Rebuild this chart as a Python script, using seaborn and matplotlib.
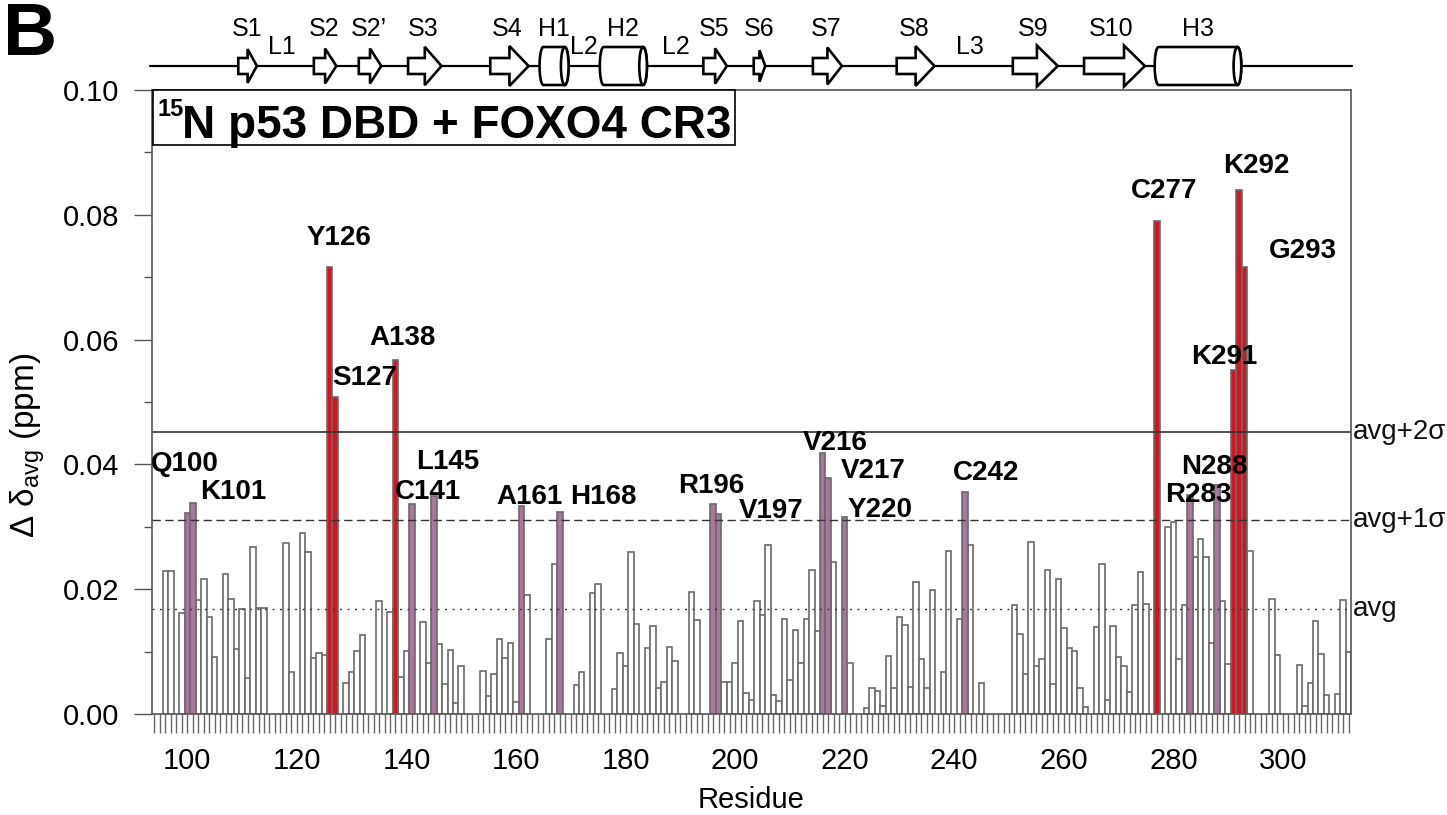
import numpy as np
import pandas as pd
import matplotlib
matplotlib.use("Agg")
import matplotlib.pyplot as plt
import seaborn as sns
from matplotlib.patches import Polygon, Ellipse, Rectangle
from matplotlib.ticker import FixedLocator, MultipleLocator, FormatStrFormatter
import matplotlib.transforms as mtransforms

# ---------------- data ----------------
residues = list(range(94, 313))
shifts = [
    None, None, 0.0229, 0.0229, None, 0.0162,                                          # 94-99
    0.0322, 0.0338, 0.0183, 0.0217, 0.0155, 0.0092, None, 0.0224, 0.0184, 0.0104,      # 100-109
    0.0169, 0.0058, 0.0268, 0.0170, 0.0170, None, None, None, 0.0274, 0.0067,          # 110-119
    None, 0.0290, 0.0259, 0.0089, 0.0097, 0.0094, 0.0716, 0.0508, None, 0.0050,        # 120-129
    0.0067, 0.0101, 0.0127, None, None, 0.0181, None, 0.0163, 0.0567, 0.0060,          # 130-139
    0.0101, 0.0336, None, 0.0147, 0.0081, 0.0349, 0.0112, 0.0048, 0.0103, 0.0018,      # 140-149
    0.0077, None, None, None, 0.0069, 0.0029, 0.0064, 0.0120, 0.0090, 0.0113,          # 150-159
    0.0020, 0.0334, 0.0190, None, None, None, 0.0120, 0.0240, 0.0323, None,            # 160-169
    None, 0.0046, 0.0067, None, 0.0194, 0.0208, None, None, 0.0040, 0.0097,            # 170-179
    0.0077, 0.0259, 0.0144, None, 0.0105, 0.0141, 0.0041, 0.0051, 0.0108, 0.0085,      # 180-189
    None, None, 0.0195, 0.0151, None, None, 0.0336, 0.0321, 0.0051, 0.0051,            # 190-199
    0.0081, 0.0149, 0.0034, 0.0022, 0.0181, 0.0159, 0.0271, 0.0030, 0.0021, 0.0153,    # 200-209
    0.0054, 0.0135, 0.0081, 0.0153, 0.0231, 0.0133, 0.0419, 0.0379, 0.0244, None,      # 210-219
    0.0315, 0.0081, None, None, 0.0009, 0.0041, 0.0037, 0.0013, 0.0093, 0.0041,        # 220-229
    0.0156, 0.0143, 0.0043, 0.0212, 0.0088, 0.0041, 0.0199, None, 0.0068, 0.0262,      # 230-239
    None, 0.0152, 0.0356, 0.0271, None, 0.0050, None, None, None, None,                # 240-249
    None, 0.0174, 0.0129, 0.0064, 0.0275, 0.0077, 0.0088, 0.0231, 0.0048, 0.0216,      # 250-259
    0.0138, 0.0105, 0.0101, 0.0041, 0.0011, None, 0.0140, 0.0240, 0.0022, 0.0141,      # 260-269
    0.0091, 0.0077, 0.0035, 0.0175, 0.0228, 0.0177, None, 0.0790, None, 0.0300,        # 270-279
    0.0308, 0.0088, 0.0175, 0.0351, 0.0252, 0.0281, 0.0251, 0.0114, 0.0367, 0.0181,    # 280-289
    0.0080, 0.0552, 0.0840, 0.0716, 0.0262, None, None, None, 0.0184, 0.0095,          # 290-299
    None, None, None, 0.0079, 0.0013, 0.0049, 0.0149, 0.0096, 0.0031, None,            # 300-309
    0.0032, 0.0182, 0.0099,                                                            # 310-312
]
strong_residues = [126, 127, 138, 277, 291, 292, 293]        # > avg + 2 sigma
medium_residues = [100, 101, 141, 145, 161, 168, 196, 197,
                   216, 217, 220, 242, 283, 288]             # > avg + 1 sigma

threshold_values = [0.0452, 0.0311, 0.0168]
threshold_labels = ["avg+2σ", "avg+1σ", "avg"]

peak_labels = ["Q100", "K101", "Y126", "S127", "A138", "C141", "L145", "A161",
               "H168", "R196", "V197", "V216", "V217", "Y220", "C242", "C277",
               "R283", "N288", "K291", "K292", "G293"]

# secondary structure of p53 DBD
ss_names = ["S1", "S2", "S2’", "S3", "S4", "H1", "H2", "S5", "S6", "S7",
            "S8", "S9", "S10", "H3"]
ss_start = [109.3, 123.1, 131.3, 140.3, 155.3, 164.3, 175.3, 194.2, 203.4,
            214.2, 229.5, 250.7, 263.7, 276.6]
ss_end = [112.7, 127.2, 135.4, 146.4, 162.3, 169.6, 183.9, 198.5, 205.5,
          219.5, 236.4, 258.9, 274.8, 292.4]
loop_names = ["L1", "L2", "L2", "L3"]
loop_pos = [117.3, 172.4, 189.2, 242.9]

# ---------------- layout / style ----------------
label_xy = {  # (residue-axis x, value-axis y) of text centres
    "Q100": (99.6, 0.0401), "K101": (108.4, 0.0356), "Y126": (127.7, 0.0763),
    "S127": (132.4, 0.0538), "A138": (139.2, 0.0603), "C141": (143.9, 0.0356),
    "L145": (147.5, 0.0404), "A161": (162.4, 0.0348), "H168": (175.9, 0.0348),
    "R196": (195.6, 0.0365), "V197": (206.6, 0.0326), "V216": (218.2, 0.0435),
    "V217": (225.3, 0.0390), "Y220": (226.4, 0.0327), "C242": (245.9, 0.0387),
    "C277": (278.3, 0.0838), "K292": (295.1, 0.0878), "G293": (303.7, 0.0742),
    "K291": (289.3, 0.0572), "N288": (287.5, 0.0396), "R283": (284.5, 0.0351),
}
RED = "#d4141f"
PURPLE = "#ab75a0"
EDGE = "#6a6a6a"
SPINE = "#555555"

sns.set_theme(style="ticks")
plt.rcParams["font.family"] = ["Liberation Sans", "DejaVu Sans"]
for k in ["text.color", "axes.labelcolor", "xtick.labelcolor", "ytick.labelcolor"]:
    plt.rcParams[k] = "black"
plt.rcParams["mathtext.fontset"] = "custom"
plt.rcParams["mathtext.rm"] = "Liberation Sans"
plt.rcParams["mathtext.it"] = "Liberation Sans:italic"
plt.rcParams["mathtext.bf"] = "Liberation Sans:bold"

W, H = 1447, 815
fig = plt.figure(figsize=(W / 100, H / 100), dpi=100)
ax_l, ax_r, ax_t, ax_b = 152, 1350.7, 90, 714
ax = fig.add_axes([ax_l / W, 1 - ax_b / H, (ax_r - ax_l) / W, (ax_b - ax_t) / H])

groups = []
for r in residues:
    if r in strong_residues:
        groups.append("strong")
    elif r in medium_residues:
        groups.append("medium")
    else:
        groups.append("other")
df = pd.DataFrame({"residue": residues, "shift": shifts, "group": groups}).dropna()

sns.barplot(data=df, x="residue", y="shift", hue="group",
            hue_order=["other", "medium", "strong"],
            palette={"other": "white", "medium": PURPLE, "strong": RED},
            native_scale=True, width=1.0, dodge=False, saturation=1,
            edgecolor=EDGE, linewidth=1.2, errorbar=None, legend=False, ax=ax)

XMIN, XMAX = 93.55, 312.38
ax.set_xlim(XMIN, XMAX)
ax.set_ylim(0, 0.10)

for sp in ax.spines.values():
    sp.set_visible(True)
    sp.set_color(SPINE)
    sp.set_linewidth(1.2)

ax.xaxis.set_major_locator(FixedLocator(list(range(100, 301, 20))))
ax.xaxis.set_minor_locator(FixedLocator(residues))
ax.set_xticklabels([str(v) for v in range(100, 301, 20)])
ax.tick_params(axis="x", which="both", direction="out", length=13.4, width=1.0,
               color="#666666", pad=10.5, labelsize=21, labelcolor="black")
ax.set_yticks(np.arange(0, 0.1001, 0.02))
ax.yaxis.set_minor_locator(MultipleLocator(0.01))
ax.yaxis.set_major_formatter(FormatStrFormatter("%.2f"))
ax.tick_params(axis="y", which="major", direction="out", length=13.2, width=1.0,
               color=SPINE, pad=10.5, labelsize=21, labelcolor="black")
ax.tick_params(axis="y", which="minor", direction="out", length=6, width=1.0,
               color=SPINE)

ax.set_xlabel("Residue", fontsize=21, labelpad=8, color="black")
ax.set_ylabel("Δ δ$_{\\mathrm{avg}}$ (ppm)", fontsize=24, color="black")
ax.yaxis.label.set_verticalalignment("center")
ax.yaxis.set_label_coords(-0.1035, 0.43)

# threshold lines
styles = ["-", (0, (6.0, 3.2)), (0, (1.4, 4.0))]
trans = mtransforms.blended_transform_factory(ax.transAxes, ax.transData)
for val, lab, ls in zip(threshold_values, threshold_labels, styles):
    ax.axhline(val, color="#333333", lw=1.0 if ls != "-" else 1.2, ls=ls, zorder=1)
    ax.text(1.002, val, lab, transform=trans, ha="left", va="center",
            fontsize=20, color="#111111", clip_on=False)

# peak labels
for name in peak_labels:
    x, y = label_xy[name]
    ax.text(x, y, name, ha="center", va="center", fontsize=20,
            fontweight="bold", color="black", zorder=5)

# title box
ax.add_patch(Rectangle((0.001, 0.912), 0.485, 0.088, transform=ax.transAxes,
                       facecolor="white", edgecolor="black", lw=1.2, zorder=6,
                       clip_on=False))
ax.text(0.0045, 0.958, "15", transform=ax.transAxes, fontsize=17,
        fontweight="bold", ha="left", va="baseline", zorder=7)
ax.text(0.025, 0.923, "N p53 DBD + FOXO4 CR3", transform=ax.transAxes,
        fontsize=33, fontweight="bold", ha="left", va="baseline", zorder=7)

# secondary structure diagram
axs = fig.add_axes([ax_l / W, 1 - ax_t / H, (ax_r - ax_l) / W, ax_t / H])
axs.set_xlim(XMIN, XMAX)
axs.set_ylim(ax_t, 0)
axs.axis("off")
Y0 = 66
axs.plot([93.2, XMAX + 0.2], [Y0, Y0], color="black", lw=1.6, zorder=1,
         clip_on=False)
for name, s, e in zip(ss_names, ss_start, ss_end):
    xc = (s + e) / 2
    if name.startswith("S"):
        L = e - s
        hl = min(0.5 * L, 3.8)
        hh = 14 + 1.7 * hl
        sh = 8
        pts = [(s, Y0 - sh), (e - hl, Y0 - sh), (e - hl, Y0 - hh), (e, Y0),
               (e - hl, Y0 + hh), (e - hl, Y0 + sh), (s, Y0 + sh)]
        axs.add_patch(Polygon(pts, closed=True, facecolor="white",
                              edgecolor="black", lw=1.9, zorder=3,
                              clip_on=False))
        axs.text(s + 0.45 * L, 29, name, ha="center", va="center",
                 fontsize=18, clip_on=False)
    else:
        h = 19
        a = 0.7
        th1 = np.linspace(np.pi / 2, 3 * np.pi / 2, 30)
        left = [(s + a + a * np.cos(t), Y0 - h * np.sin(t)) for t in th1]
        th2 = np.linspace(-np.pi / 2, np.pi / 2, 30)
        right = [(e - a + a * np.cos(t), Y0 - h * np.sin(t)) for t in th2]
        axs.add_patch(Polygon(left + right, closed=True, facecolor="white",
                              edgecolor="black", lw=1.9, zorder=3,
                              clip_on=False))
        axs.add_patch(Ellipse((e - a, Y0), 2 * a, 2 * h, facecolor="white",
                              edgecolor="black", lw=1.9, zorder=4,
                              clip_on=False))
        axs.text(xc, 29, name, ha="center", va="center", fontsize=18,
                 clip_on=False)
for name, x in zip(loop_names, loop_pos):
    axs.text(x, 47, name, ha="center", va="center", fontsize=18,
             clip_on=False)

fig.text(0.002, 1 - 55 / H, "B", fontsize=54, fontweight="bold",
         ha="left", va="baseline")

fig.savefig("out.png", dpi=100)
